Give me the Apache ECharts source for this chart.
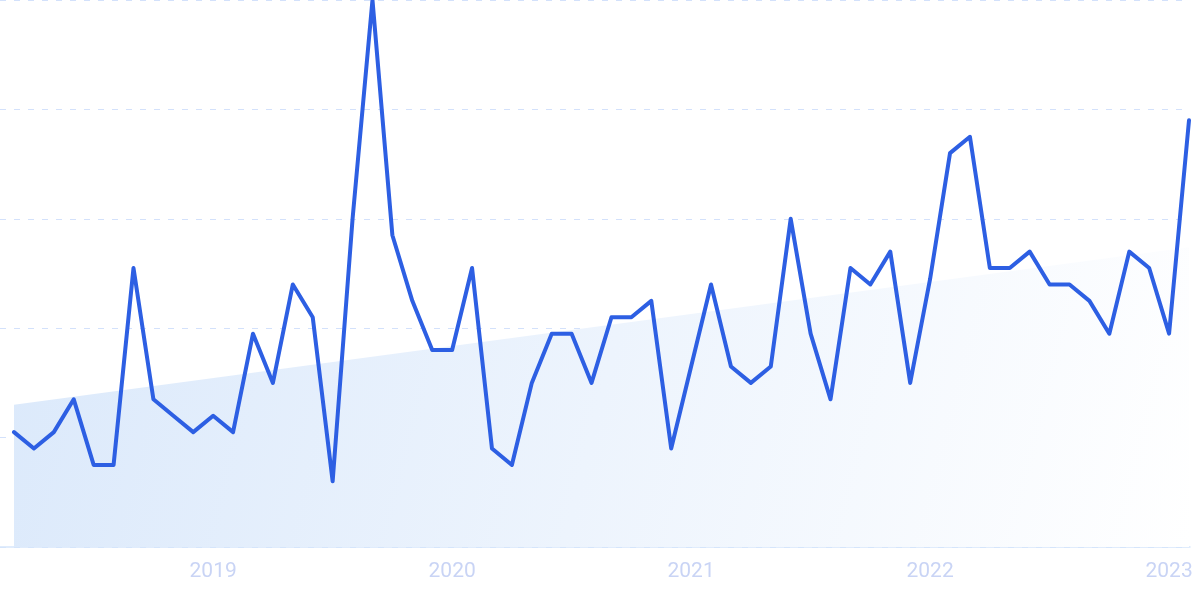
<!DOCTYPE html>
<html>
<head>
<meta charset="utf-8">
<script src="https://cdn.jsdelivr.net/npm/echarts@6/dist/echarts.min.js"></script>
<style>
html,body{margin:0;padding:0;background:#fff;}
#chart{width:1200px;height:599px;}
</style>
</head>
<body>
<div id="chart"></div>
<script>
// Monthly index values, Mar 2018 .. Feb 2023
var values = [21, 18, 21, 27, 15, 15, 51, 27, 24, 21,
              24, 21, 39, 30, 48, 42, 12, 60, 100, 57,
              45, 36, 36, 51, 18, 15, 30, 39, 39, 30,
              42, 42, 45, 18, 33, 48, 33, 30, 33, 60,
              39, 27, 51, 48, 54, 30, 49, 72, 75, 51,
              51, 54, 48, 48, 45, 39, 54, 51, 39, 78];
// trend line: start and end values
var trendValues = [26, 54.8];
// year tick labels at month index
var tickIndex = [10, 22, 34, 46, 58];
var tickLabels = ['2019', '2020', '2021', '2022', '2023'];

var lineData = values.map(function (v, i) { return [i, v]; });
var trendData = [[0, trendValues[0]], [values.length - 1, trendValues[1]]];

var chart = echarts.init(document.getElementById('chart'));
chart.setOption({
  animation: false,
  grid: { left: 0, right: 10, top: 0, bottom: 52, containLabel: false },
  xAxis: {
    type: 'value',
    min: -0.703,
    max: 59.05,
    axisLine: { show: true, lineStyle: { color: '#d6e6fb', width: 1.5 } },
    axisTick: { show: false },
    splitLine: { show: false },
    axisLabel: {
      customValues: tickIndex,
      formatter: function (v) {
        var k = tickIndex.indexOf(Math.round(v));
        return k >= 0 ? tickLabels[k] : '';
      },
      color: '#c9d4f5',
      fontSize: 21,
      fontFamily: 'Roboto',
      margin: 14
    }
  },
  yAxis: {
    type: 'value',
    min: 0,
    max: 100,
    interval: 20,
    axisLine: { show: false },
    axisTick: { show: false },
    axisLabel: { show: false },
    splitLine: {
      show: true,
      lineStyle: { color: '#d3e1fb', type: [6, 8], width: 1.2 }
    }
  },
  series: [
    {
      type: 'line',
      data: trendData,
      symbol: 'none',
      lineStyle: { width: 0, opacity: 0 },
      areaStyle: {
        opacity: 1,
        color: new echarts.graphic.LinearGradient(0, 0, 1, 1, [
          { offset: 0, color: '#dbe9fb' },
          { offset: 1, color: '#ffffff' }
        ])
      },
      z: 1,
      silent: true
    },
    {
      type: 'line',
      data: lineData,
      symbol: 'none',
      lineStyle: { color: '#2d5fe3', width: 4, join: 'round', cap: 'round' },
      z: 3
    }
  ]
});
</script>
</body>
</html>
